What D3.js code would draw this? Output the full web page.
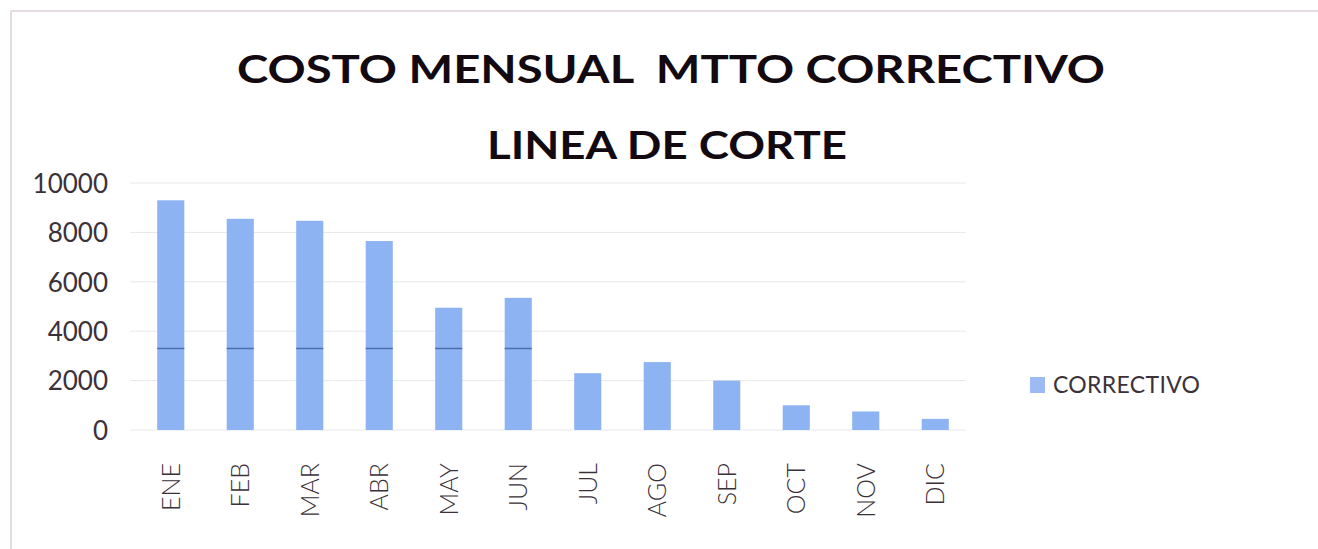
<!DOCTYPE html>
<html>
<head>
<meta charset="utf-8">
<script src="https://cdn.jsdelivr.net/npm/d3@7"></script>
<style>
  html, body { margin: 0; padding: 0; background: #fff; }
  svg { display: block; }
  .title { white-space: pre; }
</style>
</head>
<body>
<div id="chart"></div>
<script>
// Costo mensual mtto correctivo — barras por mes, linea de corte sobre las barras.

const months = ['ENE', 'FEB', 'MAR', 'ABR', 'MAY', 'JUN', 'JUL', 'AGO', 'SEP', 'OCT', 'NOV', 'DIC'];
const correctivo = [9300, 8550, 8470, 7650, 4950, 5350, 2300, 2750, 2000, 1000, 750, 450];
const yTicks = [0, 2000, 4000, 6000, 8000, 10000];
const corte = [3300];
const titleLines = ['COSTO MENSUAL  MTTO CORRECTIVO', 'LINEA DE CORTE'];
const seriesName = ['CORRECTIVO'];

const W = 1318, H = 549;
const C = {
  bar: '#8db3f2',
  cut: '#3d5c9e',
  grid: '#e8e8ec',
  text: '#3b3139',
  frame: '#dccfd8',
};

const svg = d3.select('#chart').append('svg')
  .attr('width', W).attr('height', H)
  .attr('viewBox', `0 0 ${W} ${H}`);

// marco del grafico
svg.append('line').attr('x1', 11).attr('x2', W).attr('y1', 11).attr('y2', 11)
  .attr('stroke', C.frame).attr('stroke-width', 1.5);
svg.append('line').attr('x1', 11).attr('x2', 11).attr('y1', 11).attr('y2', H)
  .attr('stroke', C.frame).attr('stroke-width', 1.5);

// titulo
const titleY = [83, 159];
const titleLen = [868, 360];
titleLines.forEach((t, i) => {
  svg.append('text')
    .attr('class', 'title')
    .attr('x', 671 - (i ? 4 : 0)).attr('y', titleY[i])
    .attr('text-anchor', 'middle')
    .attr('font-family', 'Lato, "Open Sans", sans-serif')
    .attr('font-weight', 700)
    .attr('font-size', 39)
    .attr('textLength', titleLen[i])
    .attr('lengthAdjust', 'spacingAndGlyphs')
    .attr('fill', '#120a10')
    .text(t);
});

const x = d3.scaleBand()
  .domain(months)
  .range([136, 970])
  .paddingInner(0.61)
  .paddingOuter(0.305);

const y = d3.scaleLinear().domain([0, 10000]).range([430, 183]);

// lineas de division
svg.append('g').selectAll('line').data(yTicks).join('line')
  .attr('x1', 130).attr('x2', 966)
  .attr('y1', d => y(d)).attr('y2', d => y(d))
  .attr('stroke', C.grid).attr('stroke-width', 1);

// eje y
const yAxis = d3.axisLeft(y).tickValues(yTicks).tickSize(0).tickPadding(0).tickFormat(d3.format('d'));
const gy = svg.append('g').attr('transform', 'translate(108,0)').call(yAxis);
gy.select('.domain').remove();
gy.selectAll('text')
  .attr('font-family', 'Lato, "Open Sans", sans-serif')
  .attr('font-size', 26)
  .attr('fill', C.text)
  .attr('dy', '0.36em');

// barras
svg.append('g').selectAll('rect').data(correctivo).join('rect')
  .attr('x', (d, i) => x(months[i]))
  .attr('width', x.bandwidth())
  .attr('y', d => y(d))
  .attr('height', d => y(0) - y(d))
  .attr('fill', C.bar);

// linea de corte sobre las barras que la superan
svg.append('g').selectAll('line').data(correctivo.map((d, i) => ({ d, m: months[i] })).filter(o => o.d > corte[0]))
  .join('line')
  .attr('x1', o => x(o.m)).attr('x2', o => x(o.m) + x.bandwidth())
  .attr('y1', y(corte[0])).attr('y2', y(corte[0]))
  .attr('stroke', C.cut).attr('stroke-width', 1.5).attr('opacity', 0.8);

// eje x — etiquetas verticales
const xAxis = d3.axisBottom(x).tickSize(0).tickPadding(0);
const gx = svg.append('g').attr('transform', 'translate(0,463)').call(xAxis);
gx.select('.domain').remove();
gx.selectAll('text')
  .attr('font-family', 'Lato, "Open Sans", sans-serif')
  .attr('font-weight', 300)
  .attr('font-size', 25)
  .attr('fill', C.text)
  .attr('text-anchor', 'end')
  .attr('transform', 'rotate(-90)')
  .attr('x', 0).attr('y', 0)
  .attr('dx', 0)
  .attr('dy', '0.36em');

// leyenda
const leg = svg.append('g').attr('transform', 'translate(1030,377)');
leg.append('rect').attr('width', 15).attr('height', 16).attr('fill', '#9dbaf5');
leg.append('text')
  .attr('x', 23).attr('y', 16)
  .attr('font-family', 'Lato, "Open Sans", sans-serif')
  .attr('font-size', 23)
  .attr('textLength', 147)
  .attr('lengthAdjust', 'spacing')
  .attr('fill', C.text)
  .text(seriesName[0]);
</script>
</body>
</html>
